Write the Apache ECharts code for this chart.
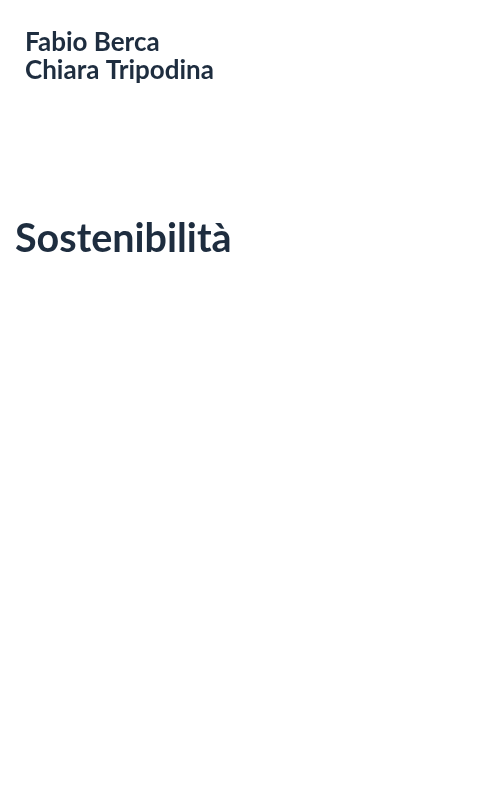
<!DOCTYPE html>
<html>
<head>
<meta charset="utf-8">
<script src="https://cdn.jsdelivr.net/npm/echarts@6/dist/echarts.min.js"></script>
<style>
  html, body { margin: 0; padding: 0; background: #ffffff; }
  #chart { width: 500px; height: 800px; }
</style>
</head>
<body>
<div id="chart"></div>
<script>
const authors = ["Fabio Berca", "Chiara Tripodina"];
const bookTitle = "Sostenibilità";

const chart = echarts.init(document.getElementById("chart"));

const textColor = "#1e2d3f";
const fontFamily = "Lato";

chart.setOption({
  backgroundColor: "#ffffff",
  title: [
    {
      text: authors.join("\n"),
      left: 20,
      top: 24,
      textStyle: {
        color: textColor,
        fontFamily: fontFamily,
        fontWeight: "bold",
        fontSize: 26,
        lineHeight: 28,
      },
    },
    {
      text: bookTitle,
      left: 10,
      top: 211,
      textStyle: {
        color: textColor,
        fontFamily: fontFamily,
        fontWeight: "bold",
        fontSize: 39.5,
        lineHeight: 46,
      },
    },
  ],
});

window.addEventListener("resize", () => {
  chart.resize();
});
</script>
</body>
</html>
